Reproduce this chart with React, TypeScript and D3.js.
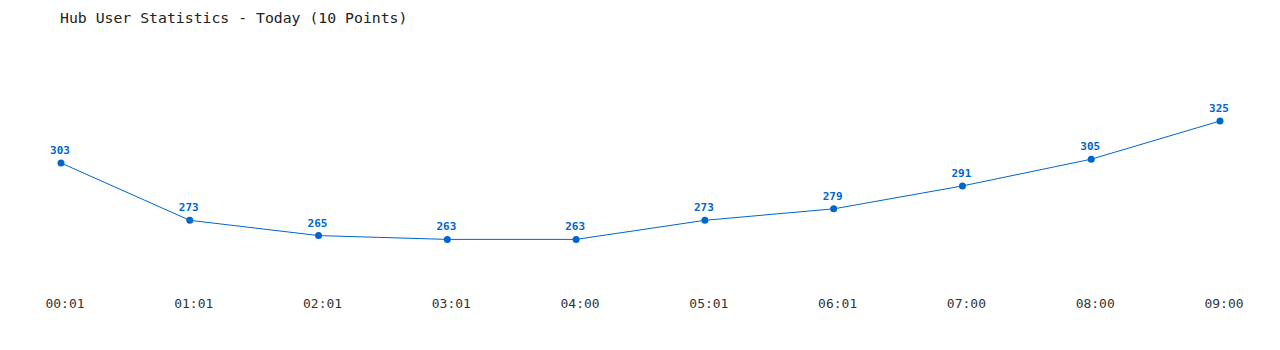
import React from "react";
import * as d3 from "d3";

const categories = ["00:01", "01:01", "02:01", "03:01", "04:00", "05:01", "06:01", "07:00", "08:00", "09:00"];
const values = [303, 273, 265, 263, 263, 273, 279, 291, 305, 325];
const title = "Hub User Statistics - Today (10 Points)";

export default function App() {
  const W = 1280, H = 350;
  const x = d3.scalePoint<string>().domain(categories).range([61, 1220]);
  const y = d3.scaleLinear().domain([263, 325]).range([239.4, 121]);
  const line = d3.line<number>().x((_, i) => x(categories[i])!).y(d => y(d));
  const color = "#0066cc";
  const mono = "'DejaVu Sans Mono', 'Liberation Mono', monospace";
  return (
    <svg width={W} height={H} style={{ position: "absolute", left: 0, top: 0, background: "#fff" }}>
      <text x={60} y={23} fontFamily={mono} fontSize={14.8} fill="#222">{title}</text>
      <path d={line(values) || ""} fill="none" stroke={color} strokeWidth={1} />
      {values.map((v, i) => (
        <g key={i}>
          <circle cx={x(categories[i])} cy={y(v)} r={3.5} fill={color} />
          <text x={x(categories[i])! - 1} y={y(v) - 9} textAnchor="middle" fontFamily={mono} fontSize={11} fontWeight="bold" fill={color}>{v}</text>
        </g>
      ))}
      {categories.map((c, i) => (
        <text key={c} x={x(c)! + 4} y={308} textAnchor="middle" fontFamily={mono} fontSize={13} fill="#333">{c}</text>
      ))}
    </svg>
  );
}
